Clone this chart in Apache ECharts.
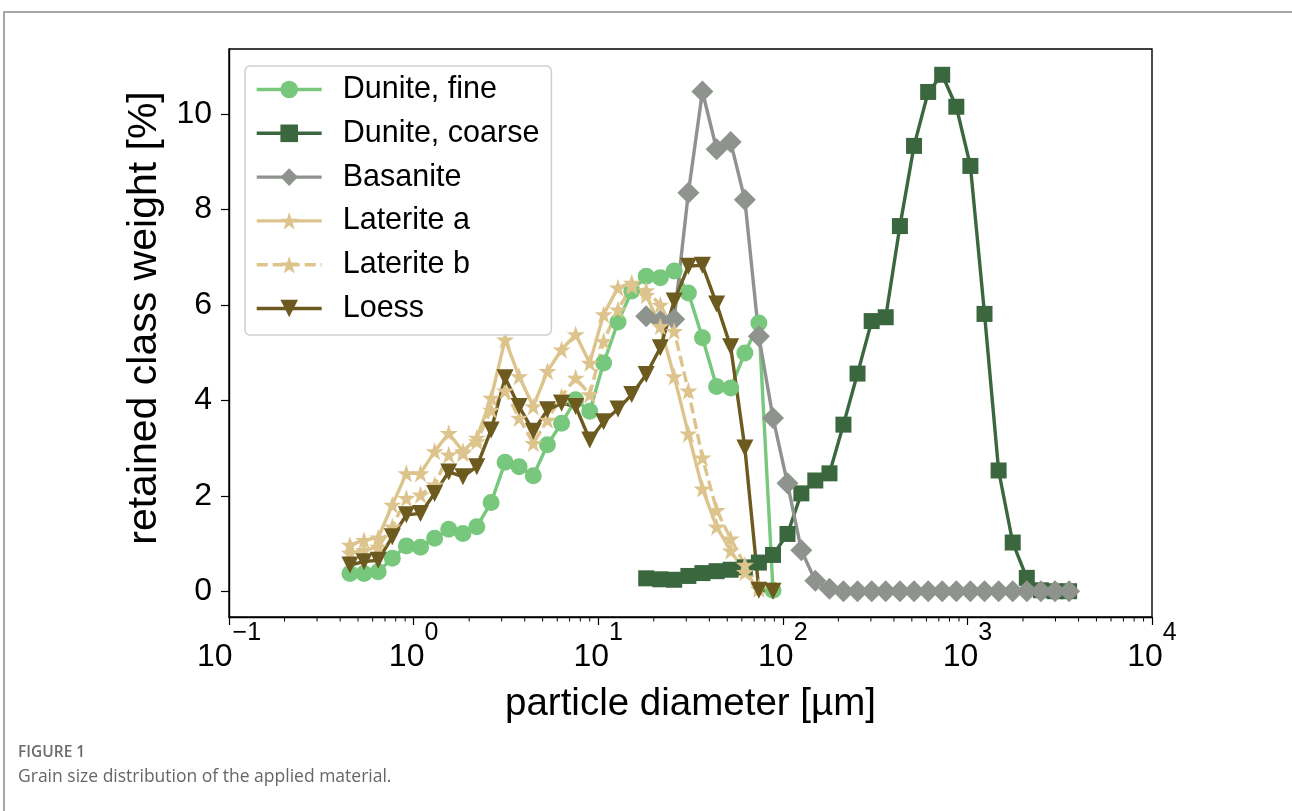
<!DOCTYPE html>
<html>
<head>
<meta charset="utf-8">
<script src="https://cdn.jsdelivr.net/npm/echarts@6/dist/echarts.min.js"></script>
<style>
  html, body { margin: 0; padding: 0; background: #fff; }
  #main { width: 1292px; height: 811px; }
</style>
</head>
<body>
<div id="main"></div>
<script>
// size classes [µm] (sieve-like grid)
const sizeClasses = [0.452, 0.539, 0.643, 0.767, 0.914, 1.09, 1.30, 1.55, 1.85, 2.20,
  2.63, 3.13, 3.73, 4.45, 5.31, 6.33, 7.55, 9.00, 10.7, 12.8,
  15.2, 18.2, 21.7, 25.8, 30.8, 36.7, 43.8, 52.2, 62.3, 74.2,
  88.5, 106, 126, 150, 179, 213, 254, 303, 361, 431,
  514, 613, 730, 871, 1038, 1238, 1476, 1760, 2098, 2502, 2983, 3556];

// retained class weight [%]
const duniteFine = [0.37, 0.37, 0.41, 0.69, 0.95, 0.92, 1.11, 1.30, 1.21, 1.35,
  1.86, 2.70, 2.61, 2.42, 3.07, 3.52, 4.01, 3.77, 4.78, 5.64,
  6.29, 6.60, 6.57, 6.71, 6.25, 5.31, 4.29, 4.26, 4.99, 5.62, 0.02];
const duniteCoarse = [0.27, 0.25, 0.24, 0.32, 0.38, 0.42, 0.45, 0.50, 0.60, 0.76,
  1.20, 2.05, 2.32, 2.47, 3.49, 4.56, 5.66, 5.74, 7.65, 9.33,
  10.46, 10.82, 10.15, 8.91, 5.81, 2.53, 1.02, 0.28, 0.02, 0, 0];
const basanite = [5.76, 5.66, 5.70, 8.35, 10.47, 9.26, 9.41, 8.20, 5.34, 3.63,
  2.26, 0.86, 0.22, 0.05, 0, 0, 0, 0, 0, 0, 0, 0, 0, 0, 0, 0, 0, 0, 0, 0, 0];
const lateriteA = [0.97, 1.07, 1.12, 1.81, 2.47, 2.47, 2.93, 3.31, 2.93, 3.21,
  4.05, 5.27, 4.50, 3.87, 4.61, 5.06, 5.38, 4.78, 5.80, 6.36,
  6.46, 6.20, 5.55, 4.50, 3.30, 2.15, 1.35, 0.85, 0.40, 0.05];
const lateriteB = [0.80, 0.86, 0.93, 1.35, 1.95, 2.02, 2.23, 2.86, 2.89, 3.14,
  3.80, 4.20, 3.63, 3.10, 3.59, 4.08, 4.47, 4.12, 5.24, 5.90,
  6.39, 6.30, 6.00, 5.45, 4.20, 2.80, 1.70, 1.10, 0.55, 0.10];
const loess = [0.55, 0.62, 0.65, 1.14, 1.60, 1.63, 2.05, 2.50, 2.40, 2.61,
  3.38, 4.47, 3.87, 3.35, 3.80, 3.94, 3.87, 3.17, 3.55, 3.82,
  4.12, 4.54, 5.10, 6.08, 6.81, 6.83, 6.02, 5.12, 3.00, 0.02, 0.0];

// first size class index of each series
const startIndex = { fine: 0, coarse: 21, basanite: 21, latA: 0, latB: 0, loess: 0 };

const yTicks = [0, 2, 4, 6, 8, 10];
const minorTicks = [0.2, 0.3, 0.4, 0.5, 0.6, 0.7, 0.8, 0.9,
  2, 3, 4, 5, 6, 7, 8, 9,
  20, 30, 40, 50, 60, 70, 80, 90,
  200, 300, 400, 500, 600, 700, 800, 900,
  2000, 3000, 4000, 5000, 6000, 7000, 8000, 9000];

const Y_MIN = -0.54, Y_MAX = 11.36;
const STAR = 'path://M50,2 L61.5,36 L97,36 L68.5,57.5 L79.5,92 L50,71 L20.5,92 L31.5,57.5 L3,36 L38.5,36 Z';

function pairs(vals, start) {
  return vals.map((v, i) => [sizeClasses[start + i], v]);
}

function lineSeries(name, vals, start, color, symbol, size, extra) {
  return Object.assign({
    name: name,
    type: 'line',
    data: pairs(vals, start),
    symbol: symbol,
    symbolSize: size,
    showSymbol: true,
    clip: false,
    itemStyle: { color: color },
    lineStyle: { color: color, width: 3.4 },
    emphasis: { disabled: true }
  }, extra || {});
}

const chart = echarts.init(document.getElementById('main'));
const font = '"Liberation Sans", Arial, Helvetica, sans-serif';

chart.setOption({
  animation: false,
  backgroundColor: '#fff',
  textStyle: { fontFamily: font },
  grid: {
    left: 229, right: 140, top: 49, bottom: 194,
    show: true, borderColor: '#000', borderWidth: 1.4
  },
  legend: {
    orient: 'vertical',
    left: 245, top: 66,
    z: 10,
    data: ['Dunite, fine', 'Dunite, coarse', 'Basanite', 'Laterite a', 'Laterite b', 'Loess'],
    backgroundColor: '#fff',
    borderColor: '#cfcfcf',
    borderWidth: 1.5,
    borderRadius: 5,
    padding: [8, 12, 11, 10],
    itemWidth: 65,
    itemHeight: 22,
    itemGap: 12.8,
    lineStyle: { width: 3.4 },
    textStyle: { fontSize: 30.5, color: '#000', fontFamily: font, padding: [0, 0, 0, 16], lineHeight: 30 }
  },
  xAxis: {
    type: 'log',
    logBase: 10,
    min: 0.1,
    max: 10000,
    name: 'particle diameter [µm]',
    nameLocation: 'middle',
    nameGap: 68,
    nameTextStyle: { fontSize: 38.5, color: '#000', fontFamily: font },
    axisLine: { onZero: false, lineStyle: { color: '#000', width: 1.4 } },
    axisTick: { show: true, inside: false, length: 8, lineStyle: { color: '#000', width: 1.2 } },
    splitLine: { show: false },
    axisLabel: {
      margin: 4,
      color: '#000',
      formatter: function (v) {
        const e = Math.round(Math.log10(v));
        return '{b|10}{s|' + (e < 0 ? '\u2212' + (-e) : e) + '}';
      },
      rich: {
        b: { fontSize: 32, fontFamily: font, color: '#000', lineHeight: 52, verticalAlign: 'bottom' },
        s: { fontSize: 25, fontFamily: font, color: '#000', lineHeight: 27, verticalAlign: 'top' }
      }
    }
  },
  yAxis: {
    type: 'value',
    min: Y_MIN,
    max: Y_MAX,
    name: 'retained class weight [%]',
    nameLocation: 'middle',
    nameGap: 62,
    nameTextStyle: { fontSize: 41, color: '#000', fontFamily: font, padding: [0, 0, 0, 30] },
    axisLine: { show: true, onZero: false, lineStyle: { color: '#000', width: 1.4 } },
    axisTick: { show: true, inside: false, length: 8, customValues: yTicks, lineStyle: { color: '#000', width: 1.2 } },
    splitLine: { show: false },
    axisLabel: { customValues: yTicks, fontSize: 32, color: '#000', margin: 17, fontFamily: font }
  },
  series: [
    lineSeries('Dunite, fine', duniteFine, startIndex.fine, '#77c77c', 'circle', 17),
    lineSeries('Dunite, coarse', duniteCoarse, startIndex.coarse, '#3b673f', 'rect', 16),
    lineSeries('Basanite', basanite, startIndex.basanite, '#8e938e', 'diamond', 22),
    lineSeries('Laterite a', lateriteA, startIndex.latA, '#ddc48d', STAR, 18),
    lineSeries('Laterite b', lateriteB, startIndex.latB, '#ddc48d', STAR, 18,
      { lineStyle: { color: '#ddc48d', width: 3.4, type: [11, 5] } }),
    lineSeries('Loess', loess, startIndex.loess, '#6d5a1f', 'triangle', 17, { symbolRotate: 180 }),
    {
      // minor ticks of the log axis
      type: 'custom',
      silent: true,
      clip: false,
      data: minorTicks.map(v => [v, Y_MIN]),
      renderItem: function (params, api) {
        const p = api.coord([api.value(0), api.value(1)]);
        return {
          type: 'line',
          shape: { x1: p[0], y1: p[1], x2: p[0], y2: p[1] + 4.5 },
          style: { stroke: '#000', lineWidth: 1 }
        };
      }
    }
  ],
  graphic: [
    {
      type: 'rect',
      shape: { x: 4, y: 12, width: 1400, height: 900 },
      style: { fill: null, stroke: '#8a8a8a', lineWidth: 1.5 },
      silent: true
    },
    {
      type: 'text',
      left: 18, top: 745,
      style: { text: 'FIGURE 1', fill: '#6b6b6b', font: '600 15.5px "Open Sans", sans-serif' }
    },
    {
      type: 'text',
      left: 18, top: 768,
      style: { text: 'Grain size distribution of the applied material.', fill: '#666', font: '17.5px "Open Sans", sans-serif' }
    }
  ]
});
</script>
</body>
</html>
